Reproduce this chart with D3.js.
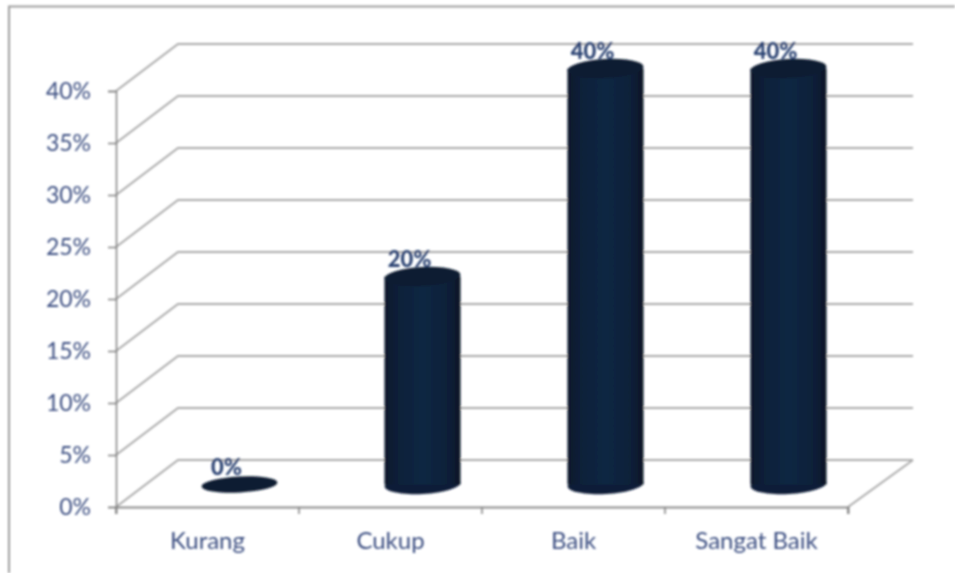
<!DOCTYPE html>
<html><head><meta charset="utf-8">
<script src="https://cdn.jsdelivr.net/npm/d3@7/dist/d3.min.js"></script>
<style>html,body{margin:0;padding:0;background:#fff}svg{display:block}</style>
</head><body><svg id="c" width="955" height="573"></svg>
<script>
const categories = ["Kurang","Cukup","Baik","Sangat Baik"];
const values = [0,20,40,40];
const valueLabels = ["0%","20%","40%","40%"];
const yTicks = [0,5,10,15,20,25,30,35,40];

const W=955,H=573;
const depth={x:62,y:-47};
const svg=d3.select("#c");
const defs=svg.append("defs");
defs.append("filter").attr("id","soft").attr("filterUnits","userSpaceOnUse")
  .attr("x",0).attr("y",0).attr("width",W).attr("height",H)
  .append("feGaussianBlur").attr("stdDeviation",0.9);
const grad=defs.append("linearGradient").attr("id","cyl").attr("x1",0).attr("x2",1).attr("y1",0).attr("y2",0);
[[0,"#0a1729"],[0.15,"#0d1f38"],[0.5,"#112743"],[0.85,"#0d1f38"],[1,"#091525"]].forEach(s=>grad.append("stop").attr("offset",s[0]).attr("stop-color",s[1]));

const x=d3.scaleBand().domain(categories).range([116,848]);
const y=d3.scaleLinear().domain([0,40]).range([507,91]);
const root=svg.append("g").attr("filter","url(#soft)");

root.append("path").attr("d",`M9,${H}V6.5H${W}`).attr("fill","none").attr("stroke","#9c9c9c").attr("stroke-width",2);

const gridColor="#aaaaaa";
const grid=root.append("g").attr("fill","none").attr("stroke",gridColor).attr("stroke-width",2);
yTicks.forEach(t=>{
  grid.append("path").attr("d",`M${x.range()[0]},${y(t)}l${depth.x},${depth.y}H${x.range()[1]+depth.x+3}`);
});
grid.append("path").attr("d",`M${x.range()[1]},${y(0)}l${depth.x+3},${depth.y}`);

const tickColor="#808080", textColor="#3d5082";
const yAxis=d3.axisLeft(y).tickValues(yTicks).tickFormat(d=>d+"%").tickSize(8).tickPadding(17);
const gy=root.append("g").attr("transform","translate(116,0)").call(yAxis);
gy.select(".domain").attr("stroke",tickColor).attr("stroke-width",1.5);
gy.selectAll(".tick line").attr("stroke",tickColor).attr("stroke-width",1.5);
gy.selectAll("text").attr("fill",textColor).attr("font-family","Lato").attr("font-size",23);

const xAxis=d3.axisBottom(x).tickSize(7).tickSizeOuter(7).tickValues([]);
const gx=root.append("g").attr("transform",`translate(0,${y(0)})`).call(xAxis);
gx.select(".domain").attr("stroke","#8a8a8a").attr("stroke-width",2);
const edges=[...categories.map(c=>x(c)),x.range()[1]];
gx.selectAll("line.edge").data(edges).join("line").attr("class","edge")
  .attr("x1",d=>d).attr("x2",d=>d).attr("y1",0).attr("y2",7).attr("stroke",tickColor).attr("stroke-width",1.5);
gx.selectAll("text.cat").data(categories).join("text").attr("class","cat")
  .attr("x",d=>x(d)+x.bandwidth()/2).attr("y",42).attr("text-anchor","middle")
  .attr("fill",textColor).attr("font-family","Lato").attr("font-size",24).text(d=>d);

const rx=38,tilt=-3;
const cx=d=>x(d)+x.bandwidth()/2+depth.x/2+1;
const cy=v=>y(v)+depth.y/2;
const bars=root.append("g");
categories.forEach((c,i)=>{
  const v=values[i],X=cx(c),b=cy(0)+1,t=cy(v)+1,ry=v>0?9.5:8;
  const g=bars.append("g");
  if(v>0){
    g.append("ellipse").attr("cx",X).attr("cy",b).attr("rx",rx).attr("ry",ry)
      .attr("transform",`rotate(${tilt} ${X} ${b})`).attr("fill","#0d1f38");
    g.append("rect").attr("x",X-rx).attr("y",t).attr("width",rx*2).attr("height",b-t).attr("fill","url(#cyl)");
  }
  g.append("ellipse").attr("cx",X).attr("cy",t).attr("rx",rx).attr("ry",ry)
    .attr("transform",`rotate(${tilt} ${X} ${t})`).attr("fill","#0c1b31");
  root.append("text").attr("x",X-13).attr("y",t-10).attr("text-anchor","middle")
    .attr("fill","#2a4272").attr("font-family","Lato").attr("font-weight",900).attr("font-size",22).text(valueLabels[i]);
});
</script></body></html>
